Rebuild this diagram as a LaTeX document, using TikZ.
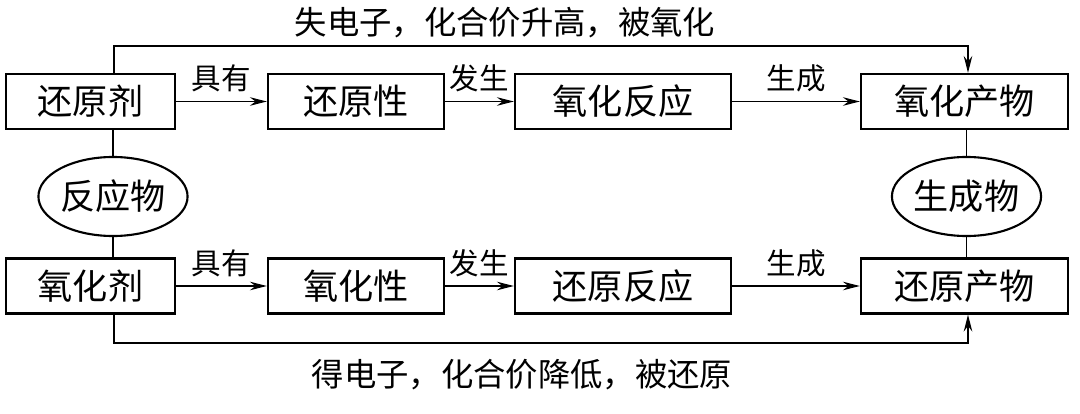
\documentclass[tikz,border=0pt]{standalone}
\usepackage{fontspec}
\setmainfont{Noto Sans CJK SC}
\usetikzlibrary{positioning,shapes,arrows.meta}

\begin{document}
\begin{tikzpicture}[x=0.025cm, y=-0.025cm,
	box/.style={draw, line width=1.5pt, minimum height=1.375cm, inner sep=0pt,
		font=\fontsize{25}{25}\selectfont},
	bubble/.style={draw, ellipse, line width=1.5pt, minimum width=3.125cm,
		minimum height=1.975cm, inner sep=0pt, font=\fontsize{25}{25}\selectfont},
	lbl/.style={font=\fontsize{21}{21}\selectfont, inner sep=0pt},
	note/.style={font=\fontsize{23}{23}\selectfont, inner sep=0pt},
	link/.style={line width=1.4pt, -{Stealth[length=12pt, width=6pt]}},
	wire/.style={line width=1.4pt}
]

\useasboundingbox (0,0) rectangle (1080,414);

% Reducing agent
\node [box, minimum width=4.225cm] (hyj) at (90.5, 101.5) {还原剂};

% Reducibility
\node [box, minimum width=4.4cm] (hyx) at (356, 101.5) {还原性};

% Oxidation reaction
\node [box, minimum width=5.4cm] (yhfy) at (623, 101.5) {氧化反应};

% Oxidation product
\node [box, minimum width=5.175cm] (yhcw) at (964.5, 101.5) {氧化产物};

% Oxidizing agent
\node [box, minimum width=4.225cm] (yhj) at (90.5, 286) {氧化剂};

% Oxidizability
\node [box, minimum width=4.4cm] (yhx) at (356, 286) {氧化性};

% Reduction reaction
\node [box, minimum width=5.4cm] (hyfy) at (623, 286) {还原反应};

% Reduction product
\node [box, minimum width=5.175cm] (hycw) at (964.5, 286) {还原产物};

% Reactants
\node [bubble] (fyw) at (113, 196.5) {反应物};

% Products
\node [bubble] (scw) at (966.5, 196.5) {生成物};

% Loop corners
\coordinate (topL) at (114, 46);
\coordinate (topR) at (968, 46);
\coordinate (botL) at (114, 343);
\coordinate (botR) at (968, 343);

% Arrows with text label
\draw[link] (hyj) -- (hyx) node[lbl, midway, above=6pt] {具有};
\draw[link] (hyx) -- (yhfy) node[lbl, midway, above=6pt] {发生};
\draw[link] (yhfy) -- (yhcw) node[lbl, midway, above=6pt] {生成};

\draw[link] (yhj) -- (yhx) node[lbl, midway, above=6pt] {具有};
\draw[link] (yhx) -- (hyfy) node[lbl, midway, above=6pt] {发生};
\draw[link] (hyfy) -- (hycw) node[lbl, midway, above=6pt] {生成};

\draw[wire] (fyw) -- (fyw |- hyj.south);
\draw[wire] (fyw) -- (fyw |- yhj.north);
\draw[wire] (scw) -- (scw |- yhcw.south);
\draw[wire] (scw) -- (scw |- hycw.north);

\draw[link] (topL |- hyj.north) -- (topL) -- (topR) -- (topR |- yhcw.north);
\draw[link] (botL |- yhj.south) -- (botL) -- (botR) -- (botR |- hycw.south);

\node [note] (shi) at (505, 23) {失电子，化合价升高，被氧化};
\node [note] (de) at (522, 375) {得电子，化合价降低，被还原};

\end{tikzpicture}
\end{document}
